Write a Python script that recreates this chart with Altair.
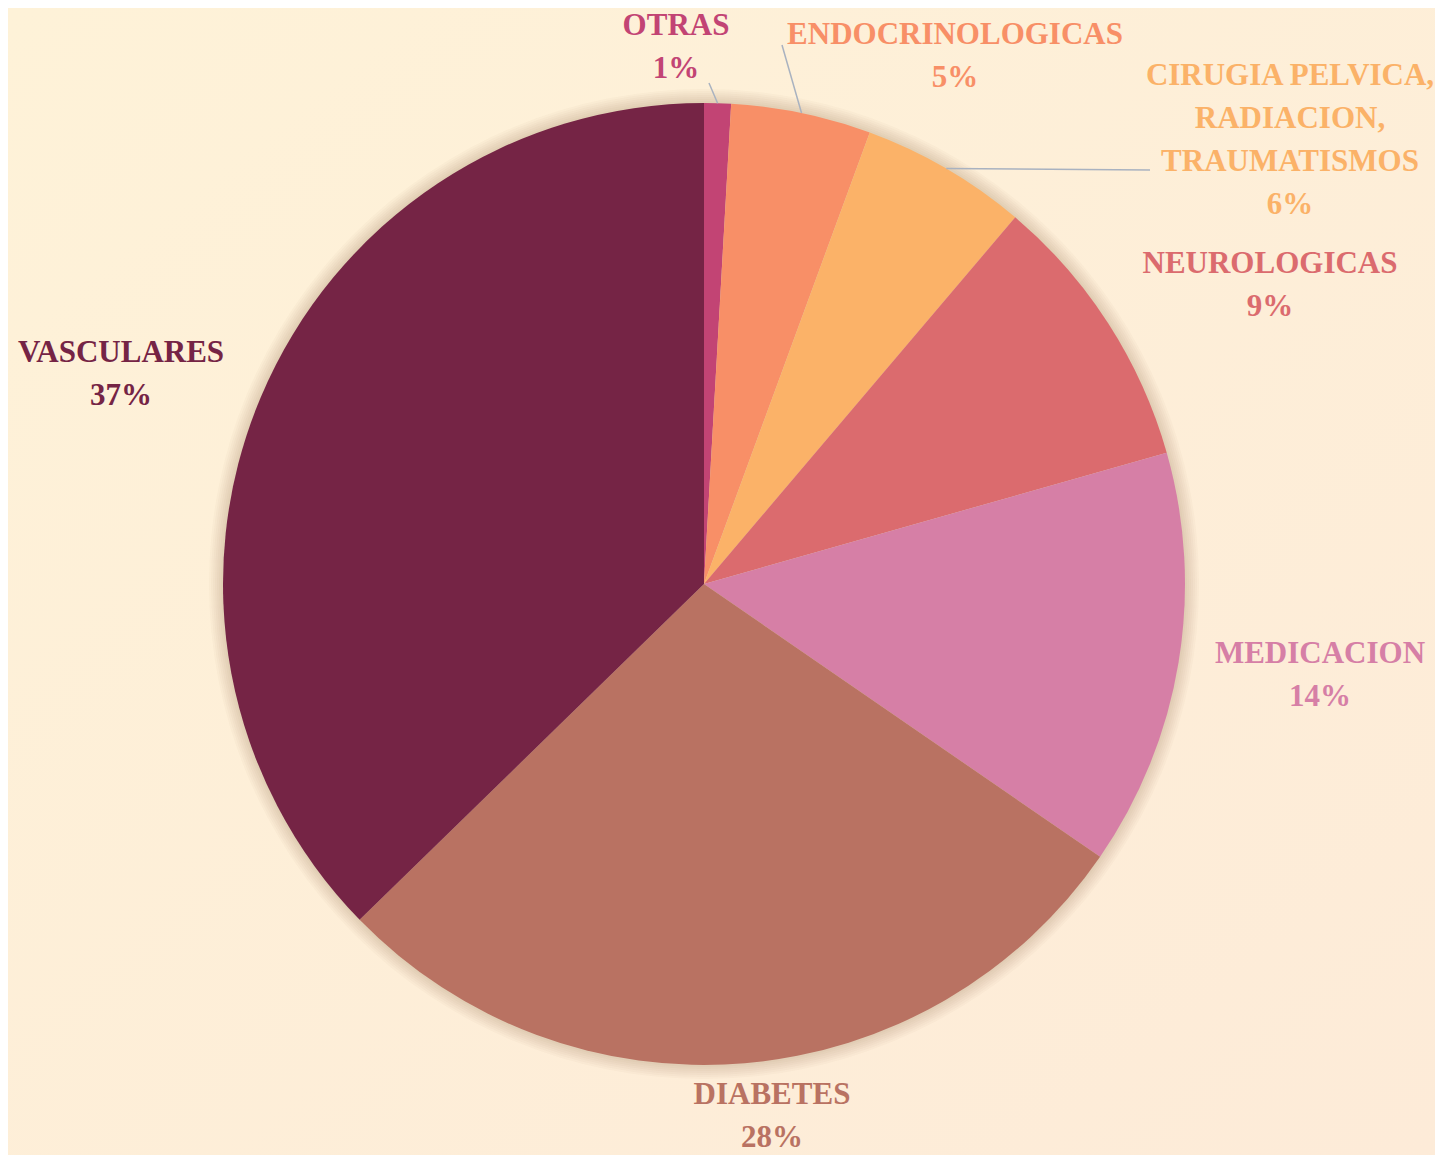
import math
import altair as alt
import pandas as pd

# ---- data ----
categories = ["OTRAS", "ENDOCRINOLOGICAS", "CIRUGIA PELVICA,\nRADIACION,\nTRAUMATISMOS",
              "NEUROLOGICAS", "MEDICACION", "DIABETES", "VASCULARES"]
values = [0.9, 4.7, 5.6, 9.4, 14.0, 28.1, 37.3]
colors = ["#C24474", "#F88F67", "#FBB268", "#DB6B6E", "#D67FA6", "#B97262", "#752445"]

# ---- layout (pixels in the plot area) ----
W, H = 1427, 1147
CX, CY, R = 696, 576, 481
label_x = [668, 947, 1282, 1262, 1312, 764, 113]
label_y = [27, 36, 77, 265, 655, 1096, 354]
# leader lines: which slices have one, and where they end
leader_idx = [0, 1, 2]
leader_end_x = [701, 774, 1142]
leader_end_y = [75, 37, 162]
shadow_radii = [483, 485, 487, 489, 491, 493, 495]

df = pd.DataFrame({
    "cat": categories,
    "value": values,
    "idx": list(range(len(categories))),
    "label": [f"{c}\n{round(v)}%" for c, v in zip(categories, values)],
    "lx": label_x,
    "ly": label_y,
})

total = sum(values)
cum = [sum(values[:i]) for i in range(len(values))]
lead_rows = []
for i, ex, ey in zip(leader_idx, leader_end_x, leader_end_y):
    mid = (cum[i] + values[i] / 2) / total * 2 * math.pi
    lead_rows.append({"x": CX + R * math.sin(mid), "y": CY - R * math.cos(mid), "x2": ex, "y2": ey})
leaders = pd.DataFrame(lead_rows)

one = pd.DataFrame({"a": [0]})

color_scale = alt.Scale(domain=categories, range=colors)

bg = alt.Chart(one).mark_rect(
    color=alt.LinearGradient(
        gradient="linear",
        stops=[alt.GradientStop(color="#FEF2D8", offset=0),
               alt.GradientStop(color="#FDEBD8", offset=1)],
        x1=0, x2=1, y1=0, y2=1,
    )
).encode(x=alt.value(0), x2=alt.value(W), y=alt.value(0), y2=alt.value(H))

shadow_layers = [
    alt.Chart(one).mark_arc(
        theta=0, theta2=2 * math.pi, radius=r, color="#6b4a20", opacity=0.026
    ).encode(x=alt.value(CX), y=alt.value(CY))
    for r in shadow_radii
]

pie = alt.Chart(df).mark_arc(radius=R).encode(
    theta=alt.Theta("value:Q", stack=True),
    order=alt.Order("idx:Q", sort="ascending"),
    color=alt.Color("cat:N", scale=color_scale, legend=None),
    x=alt.value(CX), y=alt.value(CY),
)

lead = alt.Chart(leaders).mark_rule(color="#A9B2C0", strokeWidth=1.5).encode(
    x=alt.X("x:Q", scale=None), y=alt.Y("y:Q", scale=None),
    x2="x2:Q", y2="y2:Q",
)

labels = alt.Chart(df).mark_text(
    font="Liberation Serif", fontWeight="bold", fontSize=31, lineBreak="\n",
    lineHeight=43, align="center", baseline="alphabetic",
).encode(
    x=alt.X("lx:Q", scale=None), y=alt.Y("ly:Q", scale=None),
    text="label:N",
    color=alt.Color("cat:N", scale=color_scale, legend=None),
)

chart = alt.layer(bg, *shadow_layers, pie, lead, labels).properties(
    width=W, height=H, padding=0, autosize="none", background="#FEEFD8",
).configure_view(stroke=None)

chart.save("out.html", embed_options={"renderer": "svg", "actions": False})
